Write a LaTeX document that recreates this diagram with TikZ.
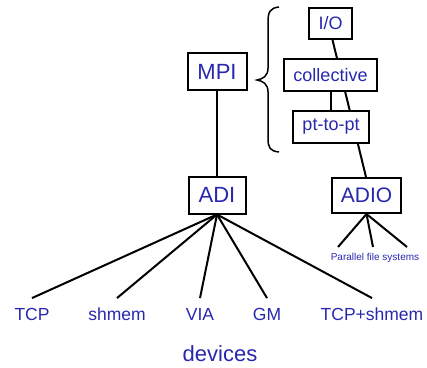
\documentclass[tikz,border=0pt]{standalone}
\usepackage{fontspec}
\setmainfont{Liberation Sans}
\usetikzlibrary{backgrounds}
\definecolor{txtblue}{RGB}{40,40,175}
\begin{document}
\begin{tikzpicture}[x=1pt,y=-1pt,
  box/.style={draw=black,line width=2pt,fill=white,inner sep=0pt,text=txtblue},
  lbl/.style={text=txtblue,inner xsep=0pt,inner ysep=9.5pt,text height=12.5pt,text depth=0pt,font=\fontsize{17.5}{20}\selectfont},
  conn/.style={line width=2pt,draw=black}]
\useasboundingbox (0,0) rectangle (427,367);
% boxes
\node[box,minimum width=59pt,minimum height=37pt,font=\fontsize{22}{26}\selectfont] (MPI) at (217,71.5) {MPI};
\node[box,minimum width=57pt,minimum height=37pt,font=\fontsize{22}{26}\selectfont] (ADI) at (217,195) {ADI};
\node[box,minimum width=43pt,minimum height=31pt,font=\fontsize{18}{22}\selectfont] (IO) at (330.5,23.5) {I/O};
\node[box,minimum width=93pt,minimum height=32pt,font=\fontsize{18}{22}\selectfont] (coll) at (330.5,75) {collective};
\node[box,minimum width=76pt,minimum height=32pt,font=\fontsize{18}{22}\selectfont] (ptpt) at (331,127) {pt-to-pt};
\node[box,minimum width=69pt,minimum height=35pt,font=\fontsize{21}{25}\selectfont] (ADIO) at (366.5,195.5) {ADIO};
% device labels
\node[lbl] (tcp) at (32,314) {TCP};
\node[lbl] (shm) at (117,314) {shmem};
\node[lbl] (via) at (200,314) {VIA};
\node[lbl] (gm) at (267,314) {GM};
\node[lbl] (tcpshm) at (372,314) {TCP+shmem};
\node[text=txtblue,font=\fontsize{22}{26}\selectfont] (dev) at (220,354) {devices};
\node[text=txtblue,inner sep=0pt,font=\fontsize{10}{12}\selectfont] (pfs) at (375,258) {Parallel file systems};
\coordinate (f1) at (338,247);
\coordinate (f2) at (373,247);
\coordinate (f3) at (407,247);
% connectors
\begin{scope}[on background layer]
\draw[conn] (MPI.south) -- (ADI.north);
\draw[conn] ([xshift=2pt]IO.south) -- ([xshift=-0.5pt]ADIO.north);
\draw[conn] (coll.south) -- (coll.south |- ptpt.north);
\end{scope}
\foreach \t in {tcp,shm,via,gm,tcpshm}
  \draw[conn] (ADI.south) -- (\t.north);
\foreach \t in {f1,f2,f3}
  \draw[conn] (ADIO.south) -- (\t);
% brace
\draw[line width=1.5pt] (279,7) .. controls (270,8) and (268,12) .. (268,22)
  -- (268,68) .. controls (268,76) and (263,79) .. (257,80)
  .. controls (263,81) and (268,84) .. (268,92)
  -- (268,138) .. controls (268,148) and (270,151) .. (279,152);
\end{tikzpicture}
\end{document}
